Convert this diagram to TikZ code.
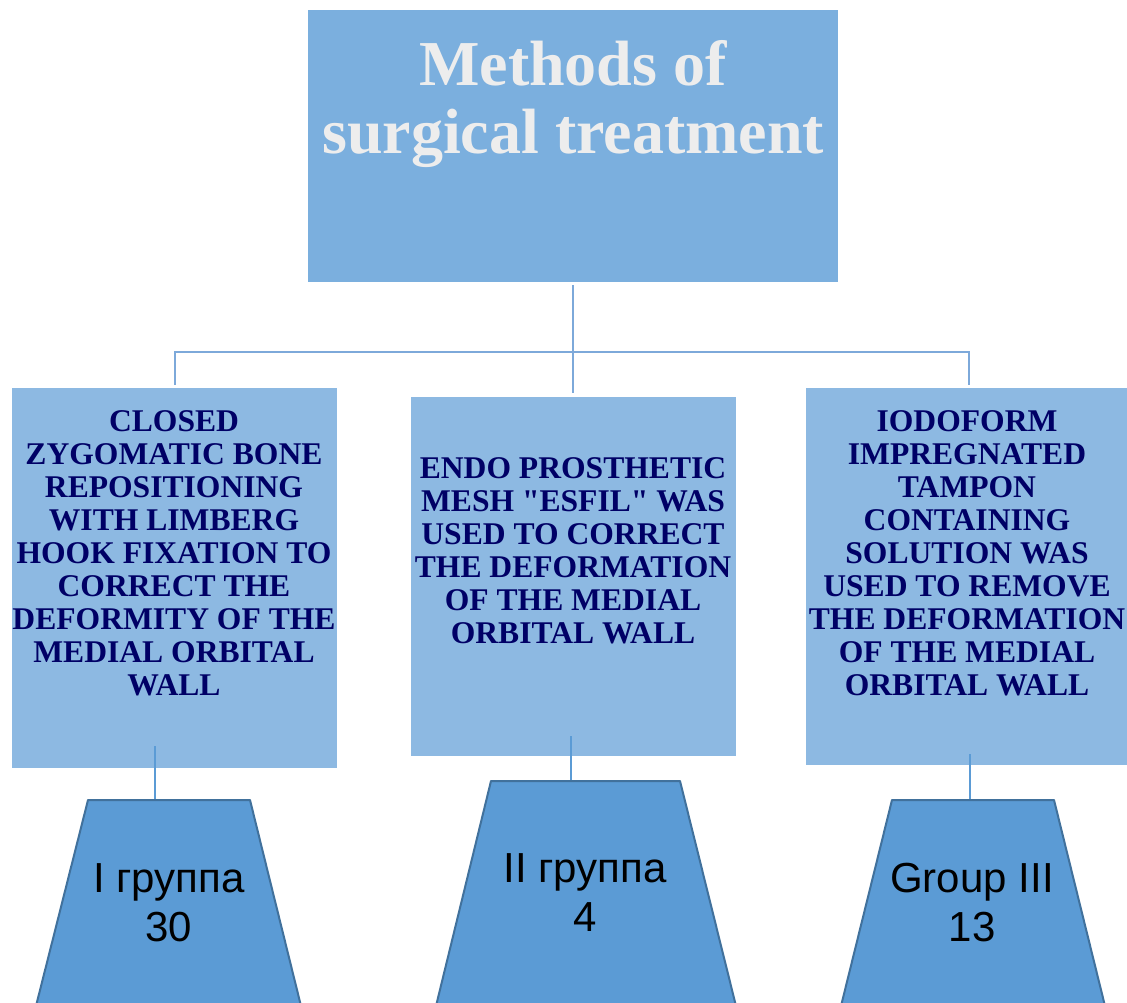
\documentclass[tikz,border=0pt]{standalone}
\usepackage{fontspec}
\usepackage{xcolor}
\setmainfont{Liberation Serif}
\newfontfamily\grpfont{Liberation Sans}

\definecolor{topblue}{HTML}{7BAFDE}
\definecolor{boxblue}{HTML}{8DB9E2}
\definecolor{grpblue}{HTML}{5B9BD5}
\definecolor{grpedge}{HTML}{41719C}
\definecolor{linkblue}{HTML}{7DA9DA}
\definecolor{navytext}{HTML}{000066}
\definecolor{titlegray}{HTML}{EDEDED}

\tikzset{
    topbox/.style={fill=topblue, minimum width=530pt, minimum height=272pt, inner sep=0pt},
    methodbox/.style={fill=boxblue, minimum width=325pt, inner sep=0pt},
    titletext/.style={align=center, text=titlegray, font=\fontsize{64}{68}\selectfont\bfseries, inner sep=0pt},
    methodtext/.style={align=center, text=navytext, font=\fontsize{31.6}{33}\selectfont\bfseries, inner sep=0pt},
    grouptext/.style={align=center, font=\grpfont\fontsize{42}{49}\selectfont, inner sep=0pt},
    link/.style={draw=linkblue, line width=2pt},
    drop/.style={draw=grpblue, line width=1.5pt},
    groupshape/.style={fill=grpblue, draw=grpedge, line width=2pt, line join=round}
}

\begin{document}
\begin{tikzpicture}[x=1pt,y=-1pt]
    \useasboundingbox (0,0) rectangle (1127,1003);

    \node[topbox] (methods) at (573,146) {};
    \node[titletext, anchor=north] (title) at (573,40) {Methods of\\surgical treatment};

    \node[methodbox, minimum height=380pt] (closed) at (174.5,578) {};
    \node[methodbox, minimum height=359pt] (mesh) at (573,576.5) {};
    \node[methodbox, minimum height=377pt] (tampon) at (968.5,576.5) {};

    \node[methodtext] (closedtxt) at (174,553) {CLOSED\\ZYGOMATIC BONE\\REPOSITIONING\\WITH LIMBERG\\HOOK FIXATION TO\\CORRECT THE\\DEFORMITY OF THE\\MEDIAL ORBITAL\\WALL};
    \node[methodtext] (meshtxt) at (573,551) {ENDO PROSTHETIC\\MESH \textquotedbl ESFIL\textquotedbl{} WAS\\USED TO CORRECT\\THE DEFORMATION\\OF THE MEDIAL\\ORBITAL WALL};
    \node[methodtext] (tampontxt) at (967,553) {IODOFORM\\IMPREGNATED\\TAMPON\\CONTAINING\\SOLUTION WAS\\USED TO REMOVE\\THE DEFORMATION\\OF THE MEDIAL\\ORBITAL WALL};

    \coordinate (fork) at (573,352);
    \draw[link, shorten <=3pt, shorten >=4pt] (methods.south) -- (mesh.north);
    \draw[link, shorten <=3pt, shorten >=3pt] (closed.north) -- (closed.north |- fork) -- (tampon.north |- fork) -- (tampon.north);

    \filldraw[groupshape] (88,800) -- (250,800) -- (301,1006) -- (36,1006) -- cycle;
    \filldraw[groupshape] (491,781) -- (680,781) -- (736,1006) -- (436,1006) -- cycle;
    \filldraw[groupshape] (892,800) -- (1054,800) -- (1105,1006) -- (841,1006) -- cycle;

    \node[grouptext] (g1) at (169,902.5) {I группа\\30};
    \node[grouptext] (g2) at (585,893) {II группа\\4};
    \node[grouptext] (g3) at (972,902.5) {Group III\\13};

    \coordinate (d1) at (155,746);
    \coordinate (d2) at (571,736);
    \coordinate (d3) at (970,754);
    \draw[drop] (d1) -- (d1 |- 0,799);
    \draw[drop] (d2) -- (d2 |- 0,780);
    \draw[drop] (d3) -- (d3 |- 0,799);

\end{tikzpicture}
\end{document}
